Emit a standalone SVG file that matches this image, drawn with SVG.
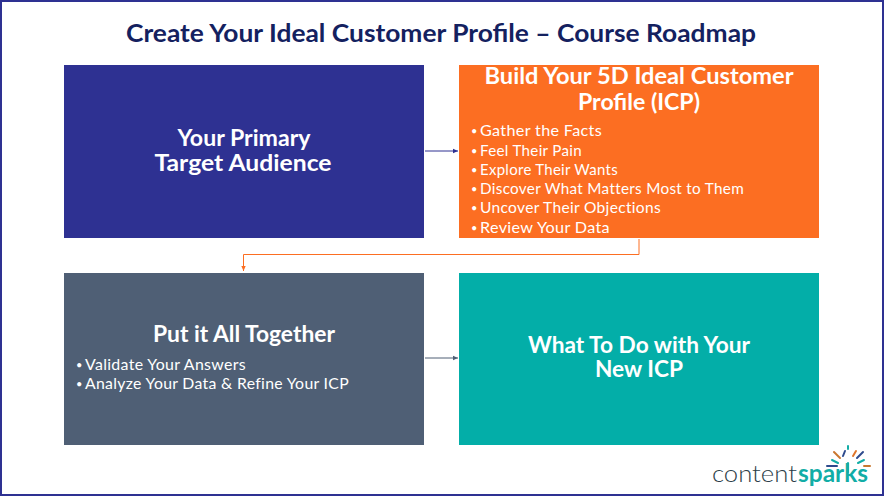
<svg xmlns="http://www.w3.org/2000/svg" width="884" height="496" viewBox="0 0 884 496">
<style>
text{font-family:"Lato","Open Sans","Liberation Sans",sans-serif;fill:#fff}
.h{font-size:22px;font-weight:700;text-anchor:middle}
.b{font-size:15px;letter-spacing:.3px}
.d{font-size:11px}
.t{font-size:24px;font-weight:700;fill:#14215f;text-anchor:middle}
.c{fill:none;stroke-width:1}
</style>
<defs>
<marker id="ab" markerWidth="6" markerHeight="6" refX="5" refY="3" orient="auto" markerUnits="userSpaceOnUse"><path d="M0 .8L5 3L0 5.2z" fill="#2e3192"/></marker>
<marker id="ao" markerWidth="6" markerHeight="6" refX="5" refY="3" orient="auto" markerUnits="userSpaceOnUse"><path d="M0 .8L5 3L0 5.2z" fill="#fc6e22"/></marker>
<marker id="ag" markerWidth="6" markerHeight="6" refX="5" refY="3" orient="auto" markerUnits="userSpaceOnUse"><path d="M0 .8L5 3L0 5.2z" fill="#4f5f75"/></marker>
</defs>
<rect x="1" y="1" width="882" height="494" fill="#fff" stroke="#2e3192" stroke-width="2"/>
<text id="title" class="t" x="441" y="42" textLength="630" lengthAdjust="spacingAndGlyphs">Create Your Ideal Customer Profile – Course Roadmap</text>
<g id="connectors">
<path class="c" d="M425 151H458" stroke="#2e3192" marker-end="url(#ab)"/>
<path class="c" d="M639 239V254.500H243.500V271" stroke="#fc6e22" marker-end="url(#ao)"/>
<path class="c" d="M425 358H458" stroke="#4f5f75" marker-end="url(#ag)"/>
</g>
<g id="node-audience">
<rect x="64" y="65" width="360" height="173" fill="#2e3192"/>
<text class="h" x="244" y="146" textLength="133" lengthAdjust="spacingAndGlyphs">Your Primary</text>
<text class="h" x="243" y="171" textLength="177" lengthAdjust="spacingAndGlyphs">Target Audience</text>
</g>
<g id="node-build">
<rect x="459" y="65" width="360" height="173" fill="#fc6e22"/>
<text class="h" x="639" y="84" textLength="309" lengthAdjust="spacingAndGlyphs">Build Your 5D Ideal Customer</text>
<text class="h" x="639" y="110" textLength="122" lengthAdjust="spacingAndGlyphs">Profile (ICP)</text>
<text class="d" x="471" y="135">•</text><text class="b" x="480" y="136" textLength="122" lengthAdjust="spacingAndGlyphs">Gather the Facts</text>
<text class="d" x="471" y="155">•</text><text class="b" x="480" y="156" textLength="102" lengthAdjust="spacingAndGlyphs">Feel Their Pain</text>
<text class="d" x="471" y="174">•</text><text class="b" x="480" y="175" textLength="138" lengthAdjust="spacingAndGlyphs">Explore Their Wants</text>
<text class="d" x="471" y="193">•</text><text class="b" x="480" y="194" textLength="264" lengthAdjust="spacingAndGlyphs">Discover What Matters Most to Them</text>
<text class="d" x="471" y="212">•</text><text class="b" x="480" y="213" textLength="181" lengthAdjust="spacingAndGlyphs">Uncover Their Objections</text>
<text class="d" x="471" y="232">•</text><text class="b" x="480" y="233" textLength="130" lengthAdjust="spacingAndGlyphs">Review Your Data</text>
</g>
<g id="node-together">
<rect x="64" y="273" width="360" height="172" fill="#4f5f75"/>
<text class="h" x="244" y="342" textLength="182" lengthAdjust="spacingAndGlyphs">Put it All Together</text>
<text class="d" x="76" y="369">•</text><text class="b" x="85" y="370" textLength="161" lengthAdjust="spacingAndGlyphs">Validate Your Answers</text>
<text class="d" x="76" y="388">•</text><text class="b" x="85" y="389" textLength="264" lengthAdjust="spacingAndGlyphs">Analyze Your Data &amp; Refine Your ICP</text>
</g>
<g id="node-next">
<rect x="459" y="273" width="360" height="172" fill="#03aea8"/>
<text class="h" x="639" y="353" textLength="222" lengthAdjust="spacingAndGlyphs">What To Do with Your</text>
<text class="h" x="639" y="377" textLength="88" lengthAdjust="spacingAndGlyphs">New ICP</text>
</g>
<g id="logo">
<text x="712" y="482" font-size="24" font-weight="300" style="fill:#2b3d47" textLength="85" lengthAdjust="spacingAndGlyphs">content</text>
<text x="798" y="482" font-size="24" font-weight="700" style="fill:#12ada6" textLength="70" lengthAdjust="spacingAndGlyphs">sparks</text>
<g fill="none" stroke-width="2" stroke-linecap="round">
<path d="M848 446V449" stroke="#12ada6"/>
<path d="M843 456L845 451" stroke="#2e4a8c"/>
<path d="M853 456L856 451" stroke="#e0762b"/>
<path d="M834 452L840 458" stroke="#c9772f"/>
<path d="M857 458L863 452" stroke="#2e4a8c"/>
<path d="M832 460L838 463" stroke="#12ada6"/>
<path d="M858 463L864 460" stroke="#12ada6"/>
<path d="M827 466H837" stroke="#2e4a8c"/>
<path d="M864 466H870" stroke="#c9772f"/>
<path d="M848 463V472" stroke="#12ada6"/>
</g>
</g>
</svg>
